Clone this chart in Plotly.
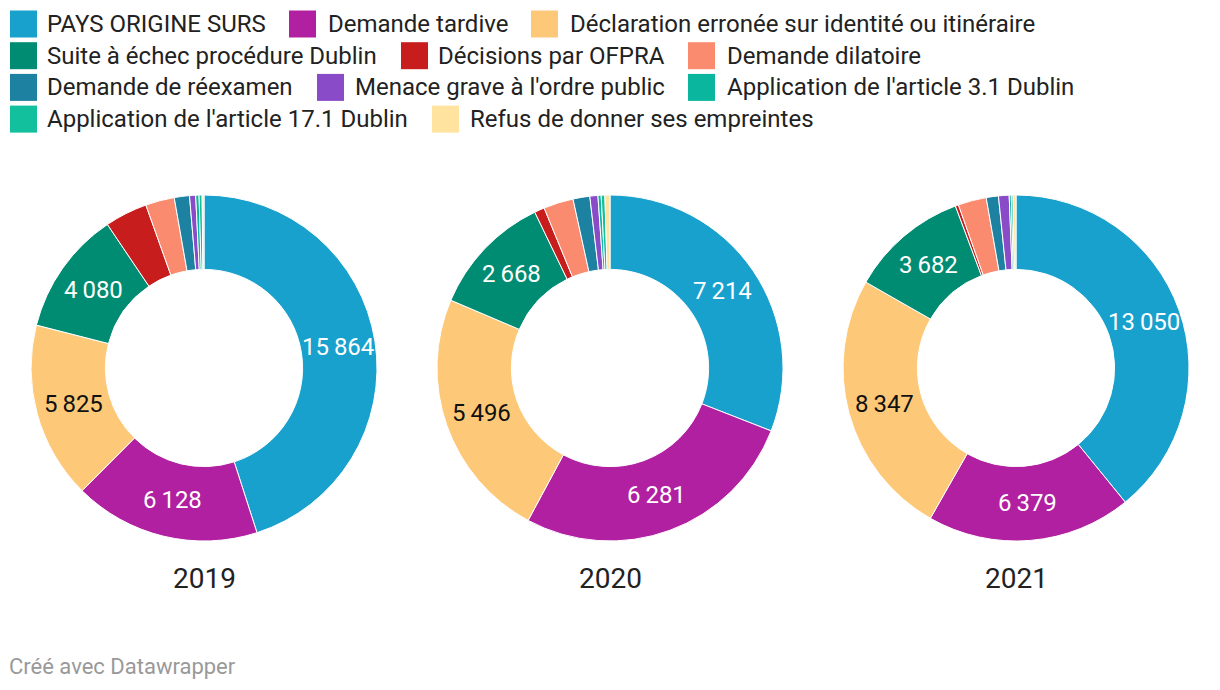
import math
import plotly.graph_objects as go

categories = ["PAYS ORIGINE SURS", "Demande tardive", "Déclaration erronée sur identité ou itinéraire",
              "Suite à échec procédure Dublin", "Décisions par OFPRA", "Demande dilatoire",
              "Demande de réexamen", "Menace grave à l'ordre public", "Application de l'article 3.1 Dublin",
              "Application de l'article 17.1 Dublin", "Refus de donner ses empreintes"]
colors = ["#18a1cd", "#b120a1", "#fdc978", "#008c72", "#c71e1d", "#fa8b6f",
          "#1d81a2", "#8a4bc8", "#0ab79e", "#12c09e", "#ffe39e"]
years = ["2019", "2020", "2021"]
values_2019 = [15864, 6128, 5825, 4080, 1400, 950, 500, 200, 110, 100, 60]
values_2020 = [7214, 6281, 5496, 2668, 220, 650, 365, 175, 70, 80, 110]
values_2021 = [13050, 6379, 8347, 3682, 100, 880, 380, 330, 65, 55, 90]
series = [values_2019, values_2020, values_2021]
label_threshold = 2000
text_colors = ["white", "white", "#111111", "white", "white", "#111111",
               "white", "white", "#111111", "#111111", "#111111"]

def fmt(v):
    return f"{v:,}".replace(",", "\u2009")

fig = go.Figure()
W, H = 1220, 690
R = 173
HOLE = 0.57
centers_x = [204, 610, 1016]
cy = 368
for i, (yr, vals) in enumerate(zip(years, series)):
    cx = centers_x[i]
    fig.add_trace(go.Pie(
        labels=categories, values=vals, sort=False, direction="clockwise", rotation=0,
        hole=HOLE,
        marker=dict(colors=colors, line=dict(color="white", width=1)),
        textinfo="none",
        hoverinfo="label+value",
        domain=dict(x=[(cx - R) / W, (cx + R) / W], y=[(H - cy - R) / H, (H - cy + R) / H]),
        showlegend=False, name=yr,
    ))
    # value labels at mid-angle, mid-ring (derived from the data)
    total = sum(vals)
    cum = 0
    rm = R * (1 + HOLE) / 2
    for v, tc in zip(vals, text_colors):
        mid = (cum + v / 2) / total * 2 * math.pi
        cum += v
        if v < label_threshold:
            continue
        px = cx + rm * math.sin(mid)
        py = cy - rm * math.cos(mid)
        fig.add_annotation(x=px / W, y=(H - py) / H, xref="paper", yref="paper", text=fmt(v),
                           showarrow=False, xanchor="center", yanchor="middle",
                           font=dict(family="Roboto", size=24, color=tc))
    fig.add_annotation(x=cx / W, y=(H - 578) / H, xref="paper", yref="paper", text=yr,
                       showarrow=False, font=dict(family="Roboto", size=28, color="#222222"),
                       xanchor="center", yanchor="middle")

# custom legend
legend_layout = [
    (0, 10, 45), (1, 289, 326), (2, 531, 568),
    (3, 10, 45), (4, 401, 436), (5, 688, 725),
    (6, 10, 45), (7, 317, 353), (8, 688, 725),
    (9, 10, 45), (10, 432, 468),
]
rows = [0, 0, 0, 1, 1, 1, 2, 2, 2, 3, 3]
for (idx, sx, tx), r in zip(legend_layout, rows):
    yc = 24 + 31.7 * r
    fig.add_shape(type="rect", xref="paper", yref="paper",
                  x0=sx / W, x1=(sx + 27) / W, y0=(H - yc - 13.5) / H, y1=(H - yc + 13.5) / H,
                  fillcolor=colors[idx], line=dict(width=0))
    fig.add_annotation(x=tx / W, y=(H - yc) / H, xref="paper", yref="paper", text=categories[idx],
                       showarrow=False, xanchor="left", yanchor="middle",
                       font=dict(family="Roboto", size=24, color="#222222"))

fig.add_annotation(x=7 / W, y=(H - 666) / H, xref="paper", yref="paper", text="Créé avec Datawrapper",
                   showarrow=False, xanchor="left", yanchor="middle",
                   font=dict(family="Roboto", size=22, color="#999999"))

fig.update_layout(width=W, height=H, margin=dict(l=0, r=0, t=0, b=0),
                  paper_bgcolor="white", plot_bgcolor="white")
fig.write_html("out.html")
